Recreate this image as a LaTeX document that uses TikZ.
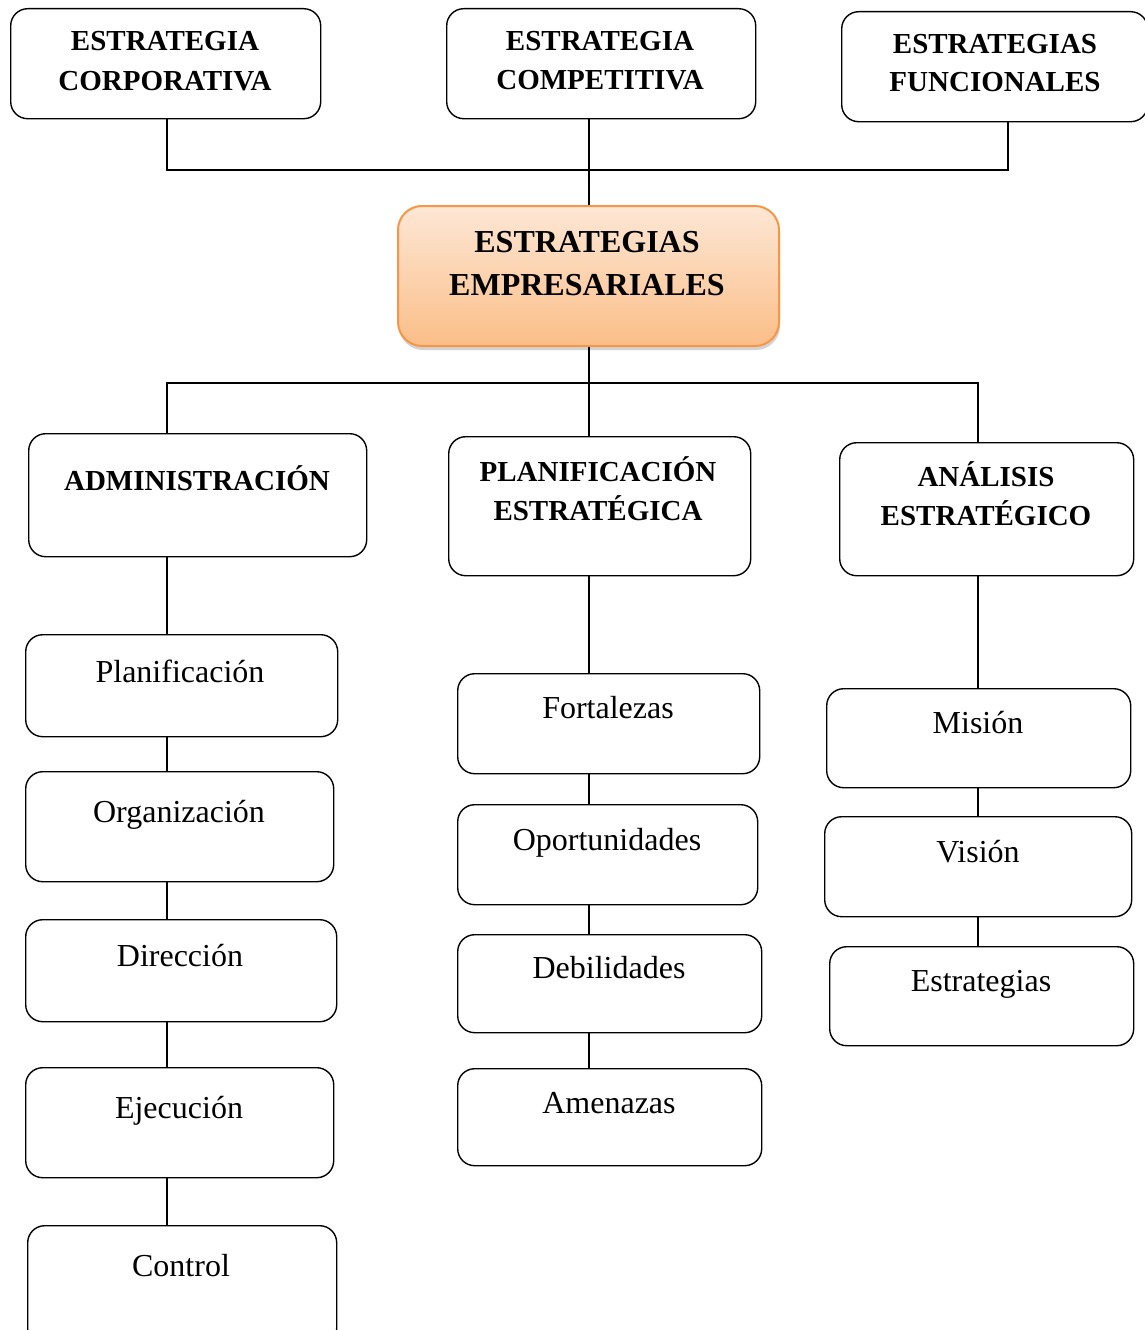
\documentclass[tikz,border=0pt]{standalone}
\usepackage{fontspec}
\setmainfont{Liberation Serif}
\usetikzlibrary{shadows}
\definecolor{orbord}{HTML}{F79646}
\definecolor{ortop}{HTML}{FDE7D5}
\definecolor{orbot}{HTML}{FBBE88}
\tikzset{
  box/.style={draw, line width=1.4pt, rounded corners=17pt, anchor=north west, inner sep=0pt},
  ctr/.style={draw=orbord, line width=2pt, rounded corners=24pt, anchor=north west, inner sep=0pt,
     top color=ortop, bottom color=orbot, drop shadow={shadow xshift=1pt, shadow yshift=-4pt, opacity=0.35}},
  conn/.style={line width=1.6pt},
  bt/.style={font=\fontsize{29}{29}\selectfont\bfseries, anchor=base, inner sep=0pt},
  bbt/.style={font=\fontsize{32}{32}\selectfont\bfseries, anchor=base, inner sep=0pt},
  rt/.style={font=\fontsize{32}{32}\selectfont, anchor=base, inner sep=0pt},
}
\begin{document}
\begin{tikzpicture}[x=1pt,y=-1pt]
\useasboundingbox (0,0) rectangle (1145,1330);
% top row
\node[box, minimum width=310, minimum height=110] (corp) at (10,8) {};
\node[box, minimum width=309, minimum height=110] (comp) at (446,8) {};
\node[box, minimum width=306, minimum height=110] (func) at (841,11) {};
\node[bt] (corp1) at (165,51) {ESTRATEGIA};
\node[bt] (corp2) at (165,90) {CORPORATIVA};
\node[bt] (comp1) at (600,51) {ESTRATEGIA};
\node[bt] (comp2) at (600,89) {COMPETITIVA};
\node[bt] (func1) at (995,53) {ESTRATEGIAS};
\node[bt] (func2) at (995,92) {FUNCIONALES};
% center
\node[ctr, minimum width=381, minimum height=140] (emp) at (397,205) {};
\node[bbt] (emp1) at (587,252) {ESTRATEGIAS};
\node[bbt] (emp2) at (587,295) {EMPRESARIALES};
% middle row
\node[box, minimum width=338, minimum height=123] (adm) at (28,433) {};
\node[box, minimum width=302, minimum height=139] (pla) at (448,436) {};
\node[box, minimum width=294, minimum height=133] (ana) at (839,442) {};
\node[bt] (adm1) at (197,490) {ADMINISTRACIÓN};
\node[bt] (pla1) at (598,481) {PLANIFICACIÓN};
\node[bt] (pla2) at (598,520) {ESTRATÉGICA};
\node[bt] (ana1) at (986,486) {ANÁLISIS};
\node[bt] (ana2) at (986,525) {ESTRATÉGICO};
% left column
\node[box, minimum width=312, minimum height=102] (l1) at (25,634) {};
\node[box, minimum width=308, minimum height=110] (l2) at (25,771) {};
\node[box, minimum width=311, minimum height=102] (l3) at (25,919) {};
\node[box, minimum width=308, minimum height=110] (l4) at (25,1067) {};
\node[box, minimum width=309, minimum height=120] (l5) at (27,1225) {};
\node[rt] (l1t) at (180,682) {Planificación};
\node[rt] (l2t) at (179,822) {Organización};
\node[rt] (l3t) at (180,966) {Dirección};
\node[rt] (l4t) at (179,1118) {Ejecución};
\node[rt] (l5t) at (181,1276) {Control};
% middle column
\node[box, minimum width=302, minimum height=100] (m1) at (457,673) {};
\node[box, minimum width=300, minimum height=100] (m2) at (457,804) {};
\node[box, minimum width=304, minimum height=98] (m3) at (457,934) {};
\node[box, minimum width=304, minimum height=97] (m4) at (457,1068) {};
\node[rt] (m1t) at (608,718) {Fortalezas};
\node[rt] (m2t) at (607,850) {Oportunidades};
\node[rt] (m3t) at (609,978) {Debilidades};
\node[rt] (m4t) at (609,1113) {Amenazas};
% right column
\node[box, minimum width=304, minimum height=99] (r1) at (826,688) {};
\node[box, minimum width=307, minimum height=100] (r2) at (824,816) {};
\node[box, minimum width=304, minimum height=99] (r3) at (829,946) {};
\node[rt] (r1t) at (978,733) {Misión};
\node[rt] (r2t) at (978,862) {Visión};
\node[rt] (r3t) at (981,991) {Estrategias};
% connector guide coordinates
\coordinate (lx) at (167,0);
\coordinate (mx) at (589,0);
\coordinate (rx) at (978,0);
\coordinate (fx) at (1008,0);
\coordinate (tb) at (0,170);
\coordinate (mb) at (0,383);
% top connectors
\draw[conn] (lx |- corp.south) -- (lx |- tb) -- (fx |- tb) -- (fx |- func.south);
\draw[conn] (mx |- comp.south) -- (mx |- emp.north);
% center to middle row
\draw[conn] (mx |- emp.south) -- (mx |- pla.north);
\draw[conn] (lx |- adm.north) -- (lx |- mb) -- (rx |- mb) -- (rx |- ana.north);
% left column
\draw[conn] (lx |- adm.south) -- (lx |- l1.north);
\draw[conn] (lx |- l1.south) -- (lx |- l2.north);
\draw[conn] (lx |- l2.south) -- (lx |- l3.north);
\draw[conn] (lx |- l3.south) -- (lx |- l4.north);
\draw[conn] (lx |- l4.south) -- (lx |- l5.north);
% middle column
\draw[conn] (mx |- pla.south) -- (mx |- m1.north);
\draw[conn] (mx |- m1.south) -- (mx |- m2.north);
\draw[conn] (mx |- m2.south) -- (mx |- m3.north);
\draw[conn] (mx |- m3.south) -- (mx |- m4.north);
% right column
\draw[conn] (rx |- ana.south) -- (rx |- r1.north);
\draw[conn] (rx |- r1.south) -- (rx |- r2.north);
\draw[conn] (rx |- r2.south) -- (rx |- r3.north);
\end{tikzpicture}
\end{document}
